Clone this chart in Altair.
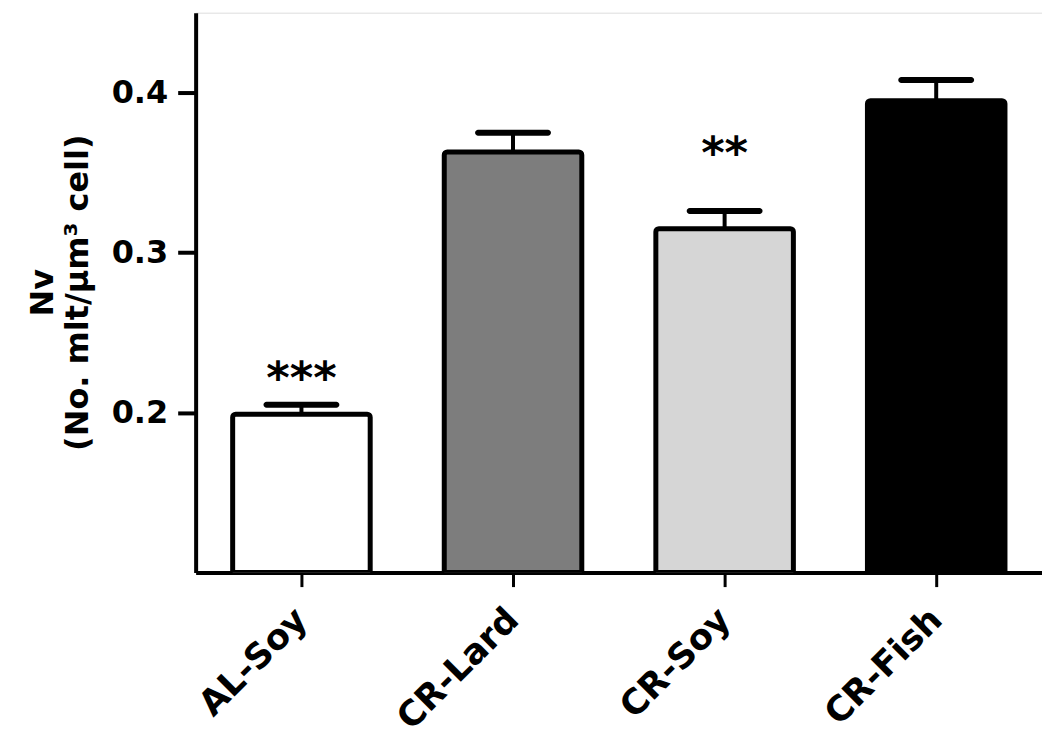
import altair as alt
import pandas as pd

groups = ["AL-Soy", "CR-Lard", "CR-Soy", "CR-Fish"]
means = [0.199, 0.363, 0.315, 0.395]
upper = [0.205, 0.375, 0.326, 0.408]
colors = ["#ffffff", "#7d7d7d", "#d6d6d6", "#000000"]
sig = ["***", "", "**", ""]
sig_y = [0.2125, None, 0.353, None]

df = pd.DataFrame({"group": groups, "mean": means, "upper": upper,
                   "color": colors, "sig": sig, "sig_y": sig_y})

FONT = "DejaVu Sans"

x = alt.X("group:N", sort=groups, title=None,
          scale=alt.Scale(paddingInner=0.35, paddingOuter=0.175),
          axis=alt.Axis(labelAngle=-45, labelAlign="right", labelBaseline="middle",
                        labelFont=FONT, labelFontSize=35, labelFontWeight="bold",
                        labelColor="black", labelPadding=27,
                        domainColor="black", domainWidth=4,
                        tickColor="black", tickWidth=3, tickSize=14,
                        grid=False))
yscale = alt.Scale(domain=[0.1, 0.45], zero=False, nice=False)
y = alt.Y("mean:Q", scale=yscale,
          title=["Nv", "(No. mlt/µm³ cell)"],
          axis=alt.Axis(values=[0.2, 0.3, 0.4], format=".1f",
                        labelFont=FONT, labelFontSize=32, labelFontWeight="bold",
                        labelColor="black", labelPadding=10,
                        domainColor="black", domainWidth=4,
                        tickColor="black", tickWidth=4, tickSize=18,
                        titleFont=FONT, titleFontSize=32, titleFontWeight="bold",
                        titleColor="black", titleAngle=-90, titleBaseline="top",
                        titleAlign="center", titleX=-168, titleY=280,
                        titleLineHeight=35, grid=False))

base = alt.Chart(df)

bars = base.mark_bar(stroke="black", strokeWidth=5, cornerRadiusTopLeft=3,
                     cornerRadiusTopRight=3, clip=True).encode(
    x=x, y=y, y2=alt.datum(0.1),
    color=alt.Color("color:N", scale=None))

err = base.mark_rule(color="black", strokeWidth=4).encode(
    x=alt.X("group:N", sort=groups),
    y=alt.Y("mean:Q", scale=yscale), y2="upper:Q")

cap = base.mark_tick(color="black", opacity=1, thickness=6, size=76,
                     orient="horizontal", cornerRadius=3).encode(
    x=alt.X("group:N", sort=groups),
    y=alt.Y("upper:Q", scale=yscale))

stars = base.transform_filter("datum.sig != ''").mark_text(
    font=FONT, fontSize=45, fontWeight="bold", color="black",
    baseline="alphabetic").encode(
    x=alt.X("group:N", sort=groups),
    y=alt.Y("sig_y:Q", scale=yscale), text="sig:N")

chart = alt.layer(bars, err, cap, stars).properties(
    width=848, height=561,
    autosize=alt.AutoSizeParams(type="none"),
    padding={"left": 188, "top": 4, "right": 0, "bottom": 170},
).configure_view(stroke=None).configure(background="white")

chart.save("out.html", embed_options={"renderer": "svg", "actions": False})
